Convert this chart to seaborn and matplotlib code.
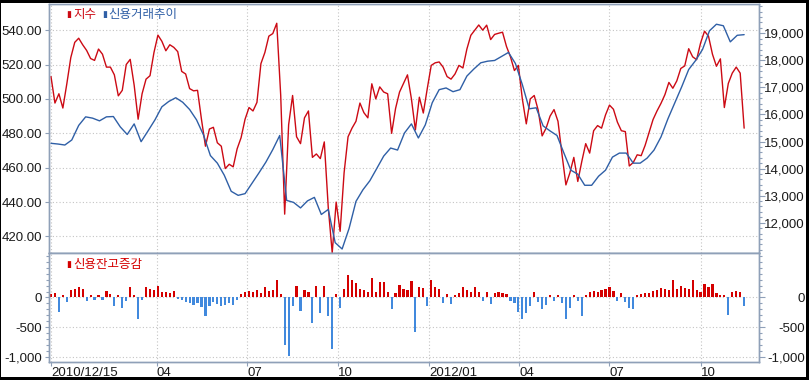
import pandas as pd
import matplotlib
matplotlib.use("Agg")
import matplotlib.pyplot as plt
import seaborn as sns
from matplotlib.ticker import FixedLocator, MultipleLocator, FuncFormatter
from matplotlib.patches import Rectangle

# Data (index every 4 days, credit trend every 7 days, balance change every 4 days)
start_date = "2010-12-15"

index_values = [
    513, 497.6, 503, 494.7, 508.8, 524, 532.9, 535.3, 531.5, 528.2,
    523.5, 522.4, 529, 526, 518.5, 518.5, 514, 501.8, 505, 520,
    523, 508, 488.2, 503, 511.5, 513.5, 527, 537.1, 533.5, 528,
    531.5, 530, 527.5, 516, 514.5, 506, 504.7, 505, 488, 472.5,
    482.5, 483.5, 474.5, 472.5, 459.5, 462, 460.5, 471, 477.5, 488.2,
    495, 493, 498, 520.5, 527, 536.5, 538, 544, 502, 433,
    485, 502, 478, 474, 489, 493, 466, 468, 465.3, 475,
    437, 410.5, 440, 423, 457, 478, 483, 487, 497.6, 492,
    489, 508.8, 500, 507, 504, 503, 480, 494.5, 504, 509,
    514, 500, 482, 501, 491.8, 506, 519.5, 521, 521.5, 518.5,
    513, 511.5, 514.5, 519.5, 518, 529, 537, 540, 543, 540,
    542.9, 534.5, 537.5, 538.2, 538.8, 530.5, 524.5, 516.5, 519.5, 500,
    485.5, 500, 502, 493.5, 478.5, 483, 490, 493.8, 487, 468,
    450, 457, 466, 452, 463.5, 474, 468.5, 481.5, 484.5, 483,
    490.7, 496.4, 494, 486.5, 481.5, 481, 461, 463, 467.5, 467,
    473, 480.5, 488, 493, 497.4, 502.5, 509.6, 506.2, 510.5, 517.7,
    519.2, 529.2, 524.5, 522.8, 532.5, 539.4, 536.5, 526, 519, 523.3,
    495, 509, 515, 518.5, 515, 483,
]

credit_values = [
    14934, 14908, 14871, 15057, 15596, 15912, 15864, 15764, 15912, 15924,
    15540, 15261, 15652, 14994, 15392, 15801, 16284, 16482, 16619, 16452,
    16184, 15801, 15243, 14480, 14201, 13755, 13160, 13011, 13074, 13457,
    13840, 14238, 14703, 15224, 12825, 12750, 12546, 12806, 12936, 12304,
    12490, 11262, 11028, 11783, 12788, 13215, 13550, 14004, 14462, 14759,
    14685, 15317, 15652, 15131, 15615, 16433, 16917, 16980, 16842, 16917,
    17419, 17679, 17910, 17970, 17996, 18144, 18293, 17884, 17103, 16210,
    16247, 15578, 15392, 15224, 14573, 13941, 13792, 13383, 13383, 13718,
    13941, 14424, 14573, 14573, 14201, 14201, 14387, 14685, 15168, 15838,
    16433, 17028, 17661, 17996, 18405, 19093, 19335, 19279, 18684, 18926,
    18950,
]

change_values = [
    60, 80, -240, 50, -80, 120, 150, 180, 140, -60,
    50, -40, 40, -50, 110, 60, -150, 50, -180, -60,
    180, 40, -370, -40, 170, 140, 130, 200, 100, 90,
    70, 110, -30, -50, -70, -90, -130, -100, -160, -320,
    -140, -80, -110, -150, -120, -90, -130, -50, 60, 100,
    110, 90, 120, 80, 170, 110, 120, 290, 60, -810,
    -990, -150, 200, -230, 120, 100, -430, 200, -260, 190,
    -320, -880, 60, -175, 150, 376, 300, 240, 150, 120,
    100, 335, 100, 260, 260, 90, -200, 70, 215, 150,
    120, 280, -590, 170, 160, -145, 290, 180, 150, -90,
    60, -110, 50, 80, 185, 120, 100, 180, 90, -60,
    100, -110, 80, 90, 70, 60, -60, -100, -250, -365,
    -260, -150, 100, -70, -200, -130, 50, -60, 40, -100,
    -365, -180, 40, -60, -307, 50, 90, 110, 90, 120,
    150, 170, 110, -60, 70, -80, -170, -190, 40, 60,
    70, 80, 110, 130, 160, 150, 120, 290, 150, 200,
    160, 140, 290, 130, 100, 230, 180, 230, 80, 50,
    40, -300, 100, 110, 100, -145,
]

tick_dates = ["2010-12-15", "2011-04-01", "2011-07-01", "2011-10-01",
              "2012-01-01", "2012-04-01", "2012-07-01", "2012-10-01"]
tick_labels = ["2010/12/15", "04", "07", "10", "2012/01", "04", "07", "10"]

RED = "#cc0a14"
BLUE = "#2f5fa6"
BAR_RED = "#d40000"
BAR_BLUE = "#4189dd"
FRAME = "#8fa0b8"
GRID = "#c4c4c4"
TXT = "#1a1a1a"
FS = 9.5

sns.set_style("white")
plt.rcParams["font.family"] = ["Liberation Sans", "DejaVu Sans"]
KR = ["Noto Sans CJK KR", "DejaVu Sans"]

index_dates = pd.date_range(start_date, periods=len(index_values), freq="4D")
credit_dates = pd.date_range(start_date, periods=len(credit_values), freq="7D")
change_dates = pd.date_range(start_date, periods=len(change_values), freq="4D")
ticks = pd.to_datetime(tick_dates)

fig = plt.figure(figsize=(8.09, 3.80), dpi=100)
ax = fig.add_axes([49 / 809, 127 / 380, 710 / 809, 249 / 380])
ax2 = ax.twinx()
axb = fig.add_axes([49 / 809, 18 / 380, 710 / 809, 109 / 380], sharex=ax)
axb2 = axb.twinx()

# top panel: index (left) and credit trend (right)
sns.lineplot(x=index_dates, y=index_values, ax=ax, color=RED, linewidth=1.0)
sns.lineplot(x=credit_dates, y=credit_values, ax=ax2, color=BLUE, linewidth=1.0)

# bottom panel: balance change bars
bar_colors = [BAR_RED if v >= 0 else BAR_BLUE for v in change_values]
axb.bar(change_dates, change_values, width=2.2, color=bar_colors, linewidth=0)

ax.set_xlim(pd.Timestamp("2010-12-13"), pd.Timestamp("2012-11-29"))
ax.set_xticks(ticks)
axb.set_xticks(ticks)
axb.set_xticklabels(tick_labels)
for lab in axb.get_xticklabels():
    lab.set_horizontalalignment("left")

ax.set_ylim(410.4, 555.2)
ax.yaxis.set_major_locator(FixedLocator([420, 440, 460, 480, 500, 520, 540]))
ax.yaxis.set_major_formatter(FuncFormatter(lambda v, p: f"{v:.2f}"))

ax2.set_ylim(10880, 20083)
ax2.yaxis.set_major_locator(FixedLocator(list(range(12000, 19001, 1000))))
ax2.yaxis.set_minor_locator(MultipleLocator(200))
ax2.yaxis.set_major_formatter(FuncFormatter(lambda v, p: f"{v:,.0f}"))

for a in (axb, axb2):
    a.set_ylim(-1093, 754)
    a.yaxis.set_major_locator(FixedLocator([-1000, -500, 0]))
    a.yaxis.set_minor_locator(MultipleLocator(100))
    a.yaxis.set_major_formatter(FuncFormatter(lambda v, p: f"{v:,.0f}"))

for a in (ax, ax2, axb, axb2):
    a.set_xlabel("")
    a.set_ylabel("")
    for s in a.spines.values():
        s.set_color(FRAME)
        s.set_linewidth(1.0)

grid_kw = dict(color=GRID, linestyle=(0, (1, 2)), linewidth=0.8)
ax.grid(True, **grid_kw)
ax2.grid(False)
axb.grid(True, **grid_kw)
axb2.grid(False)
ax.set_axisbelow(True)
axb.set_axisbelow(True)

ax.tick_params(axis="x", which="both", bottom=False, labelbottom=False)
ax.tick_params(axis="y", which="major", left=True, length=3, width=0.8,
               color=FRAME, labelsize=FS, labelcolor=TXT, pad=2)
axb.tick_params(axis="y", which="major", left=True, length=3, width=0.8,
                color=FRAME, labelsize=FS, labelcolor=TXT, pad=2)
axb.tick_params(axis="y", which="minor", left=True, length=2, width=0.8, color=FRAME)
axb.tick_params(axis="x", which="major", bottom=True, length=3, width=0.8,
                color=FRAME, labelsize=FS, labelcolor=TXT, pad=0.5)
for a in (ax2, axb2):
    a.tick_params(axis="y", which="major", right=True, length=4, width=0.8,
                  color=FRAME, labelsize=FS, labelcolor=TXT, pad=29)
    a.tick_params(axis="y", which="minor", right=True, length=2, width=0.8, color=FRAME)
    for lab in a.get_yticklabels():
        lab.set_horizontalalignment("right")

# legend labels
ax.text(0.0249, 0.956, "▮", color=RED, fontsize=6.5, family="DejaVu Sans",
        va="center", ha="left", transform=ax.transAxes)
ax.text(0.0338, 0.956, "지수", color=RED, fontsize=9, family=KR,
        va="center", ha="left", transform=ax.transAxes)
ax.text(0.0756, 0.956, "▮", color=BLUE, fontsize=6.5, family="DejaVu Sans",
        va="center", ha="left", transform=ax.transAxes)
ax.text(0.0841, 0.956, "신용거래추이", color=BLUE, fontsize=9, family=KR,
        va="center", ha="left", transform=ax.transAxes)
axb.text(0.0249, 0.89, "▮", color=BAR_RED, fontsize=6.5, family="DejaVu Sans",
         va="center", ha="left", transform=axb.transAxes)
axb.text(0.0338, 0.89, "신용잔고증감", color=BAR_RED, fontsize=9, family=KR,
         va="center", ha="left", transform=axb.transAxes)

# black frame around the image (top, right, bottom)
for r in [(0, 1 - 3.3 / 380, 1, 3.3 / 380), (0, 0, 1, 3.3 / 380),
          (1 - 3 / 809, 0, 3 / 809, 1), (0, 0, 1 / 809, 1)]:
    fig.add_artist(Rectangle((r[0], r[1]), r[2], r[3], transform=fig.transFigure,
                             facecolor="black", edgecolor="none", zorder=100))

fig.savefig("out.png", dpi=100)
